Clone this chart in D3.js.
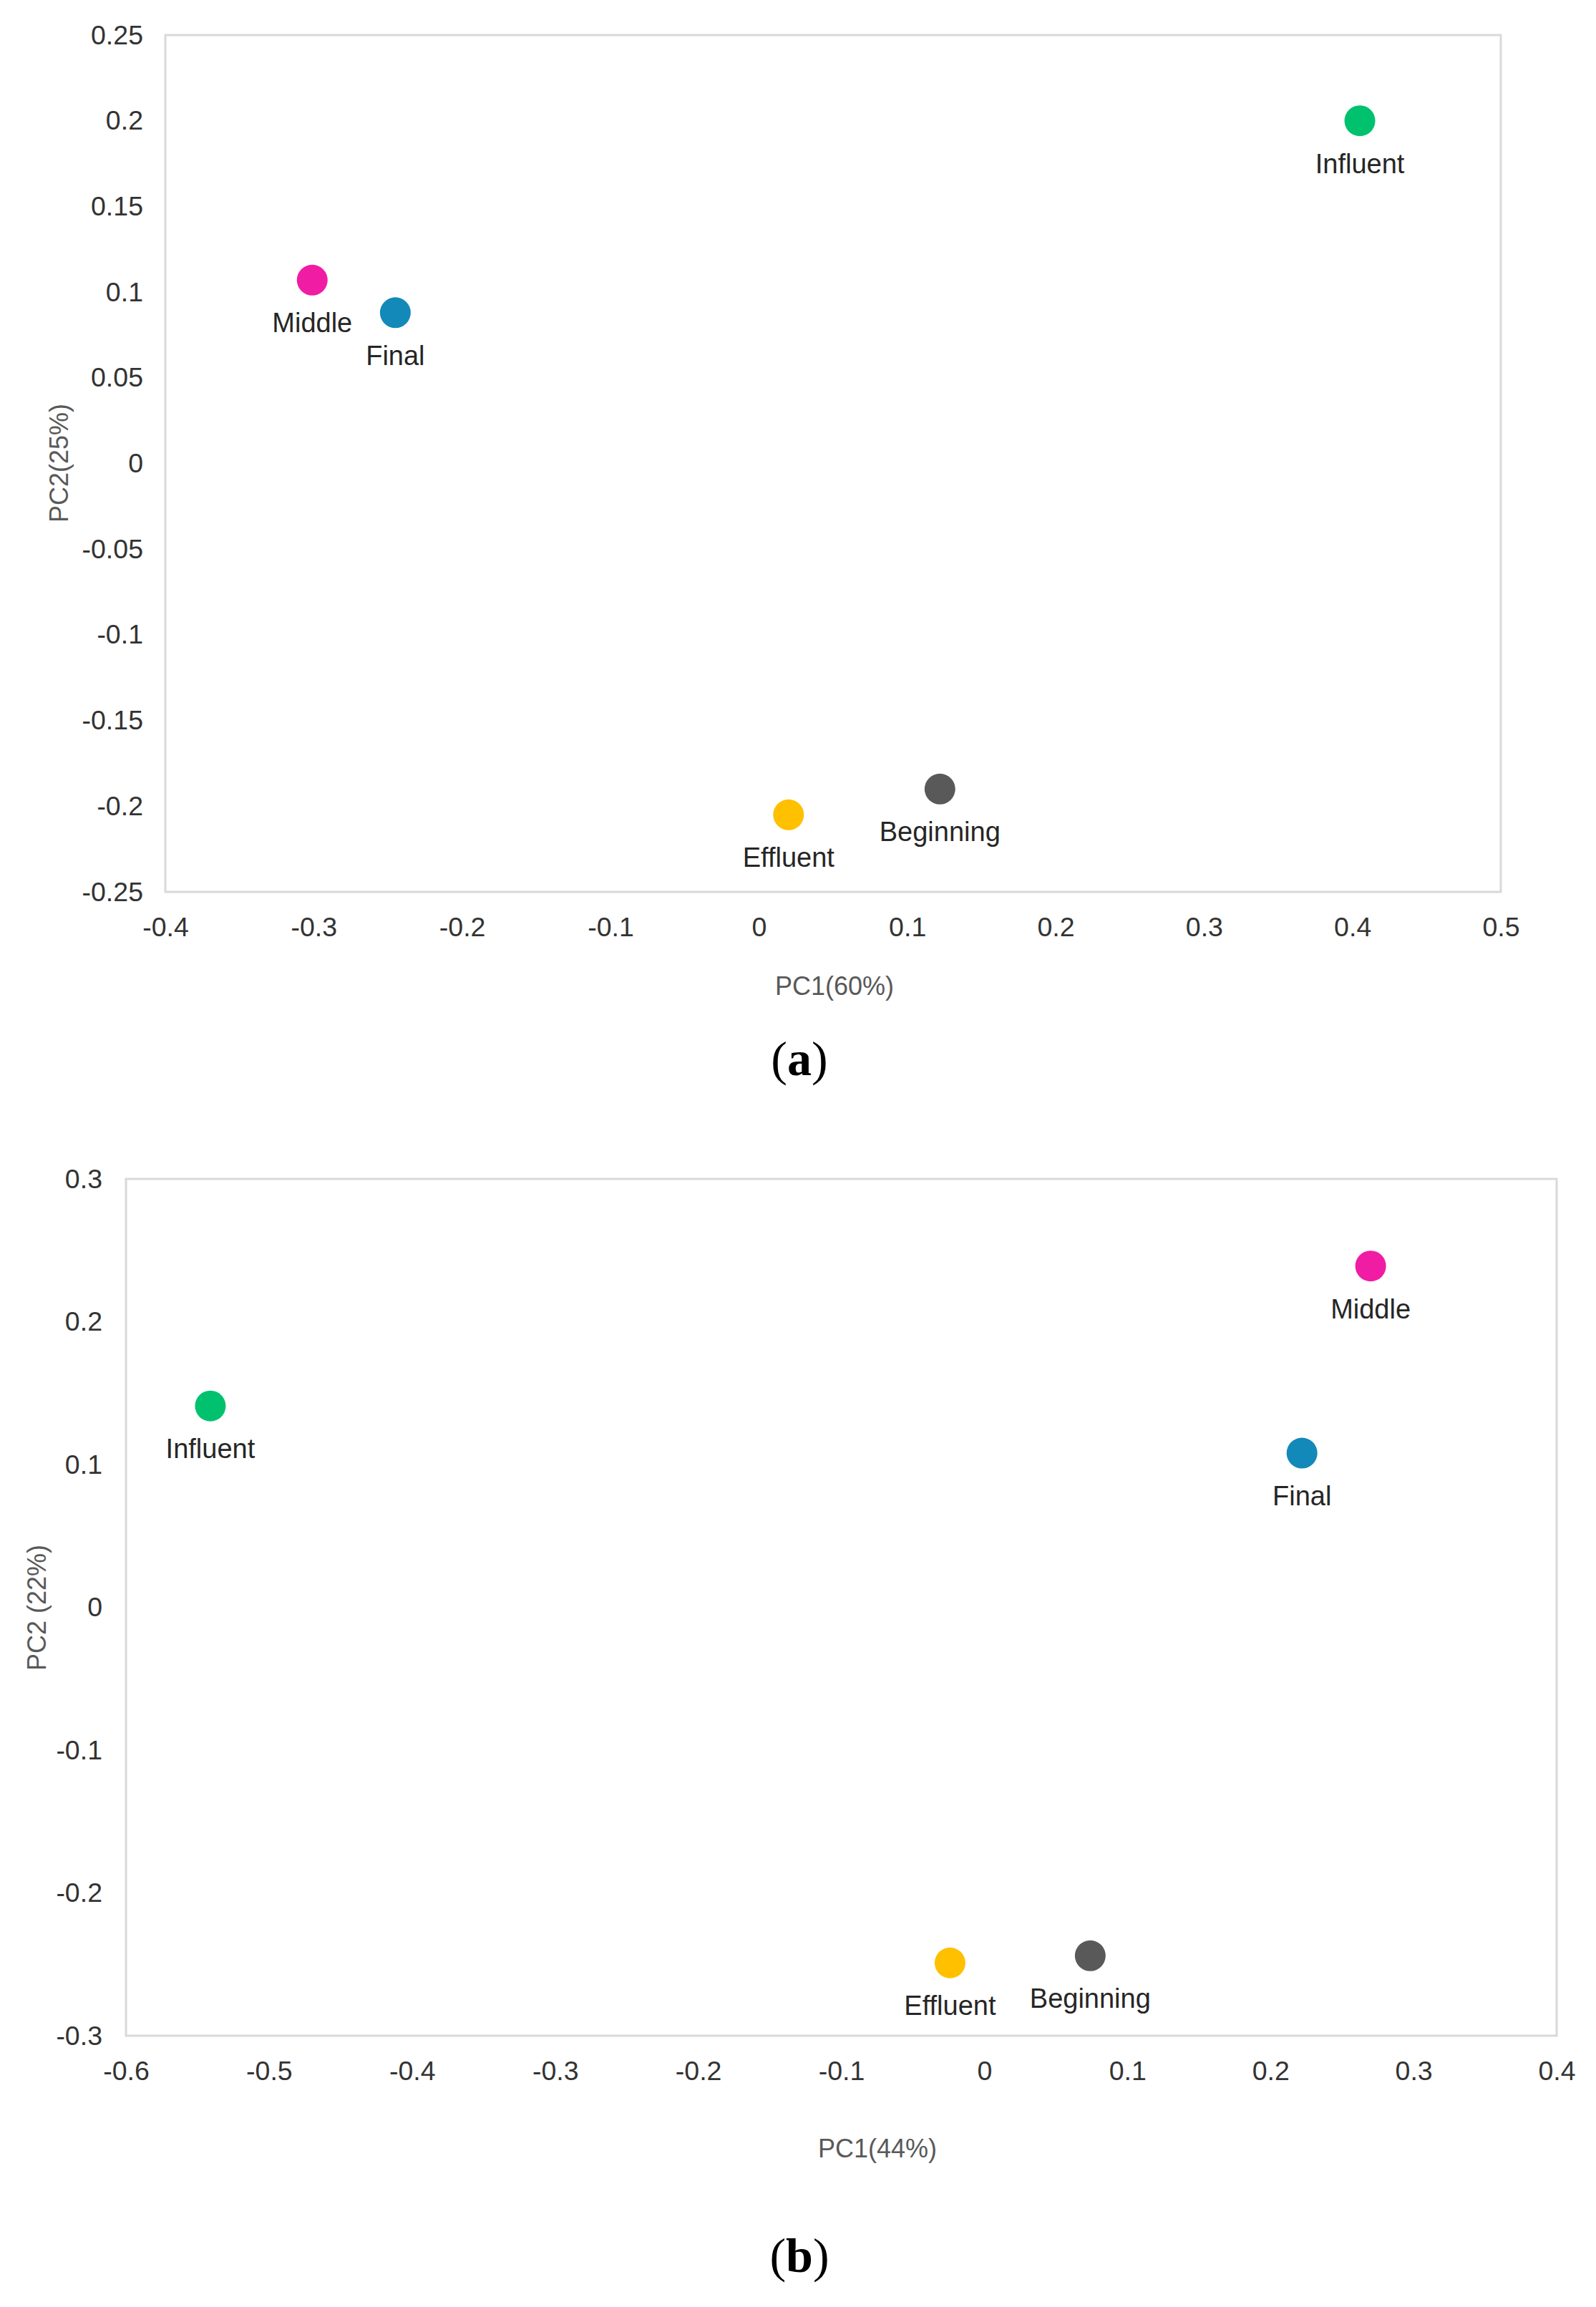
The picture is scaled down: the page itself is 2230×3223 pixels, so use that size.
<!DOCTYPE html>
<html>
<head>
<meta charset="utf-8">
<script src="https://cdn.jsdelivr.net/npm/d3@7"></script>
<style>
  html, body { margin: 0; padding: 0; background: #fff; }
  svg { display: block; }
</style>
</head>
<body>
<svg id="chart" width="2230" height="3223"></svg>
<script>
// ---------- data ----------
const categories = ["Influent", "Beginning", "Middle", "Final", "Effluent"];
const colors = ["#00C16E", "#595959", "#F01CA3", "#1389B9", "#FFC000"];

// panel (a)
const pc1A = [0.405, 0.122, -0.301, -0.245, 0.020];
const pc2A = [0.200, -0.190, 0.107, 0.088, -0.205];
const xTicksA = [-0.4, -0.3, -0.2, -0.1, 0, 0.1, 0.2, 0.3, 0.4, 0.5];
const xTickLabelsA = ["-0.4", "-0.3", "-0.2", "-0.1", "0", "0.1", "0.2", "0.3", "0.4", "0.5"];
const yTicksA = [0.25, 0.2, 0.15, 0.1, 0.05, 0, -0.05, -0.1, -0.15, -0.2, -0.25];
const yTickLabelsA = ["0.25", "0.2", "0.15", "0.1", "0.05", "0", "-0.05", "-0.1", "-0.15", "-0.2", "-0.25"];
const xTitleA = "PC1(60%)";
const yTitleA = "PC2(25%)";

// panel (b)
const pc1B = [-0.541, 0.074, 0.270, 0.222, -0.024];
const pc2B = [0.141, -0.244, 0.239, 0.108, -0.249];
const xTicksB = [-0.6, -0.5, -0.4, -0.3, -0.2, -0.1, 0, 0.1, 0.2, 0.3, 0.4];
const xTickLabelsB = ["-0.6", "-0.5", "-0.4", "-0.3", "-0.2", "-0.1", "0", "0.1", "0.2", "0.3", "0.4"];
const yTicksB = [0.3, 0.2, 0.1, 0, -0.1, -0.2, -0.3];
const yTickLabelsB = ["0.3", "0.2", "0.1", "0", "-0.1", "-0.2", "-0.3"];
const xTitleB = "PC1(44%)";
const yTitleB = "PC2 (22%)";

// ---------- drawing ----------
const svg = d3.select("#chart");
const SANS = '"Liberation Sans", Arial, sans-serif';
const SERIF = '"Liberation Serif", "Times New Roman", serif';

function panel(cfg) {
  const x = d3.scaleLinear().domain(cfg.xDomain).range([cfg.left, cfg.right]);
  const y = d3.scaleLinear().domain(cfg.yDomain).range([cfg.bottom, cfg.top]);
  const g = svg.append("g");

  // frame
  g.append("rect")
    .attr("x", cfg.left).attr("y", cfg.top)
    .attr("width", cfg.right - cfg.left).attr("height", cfg.bottom - cfg.top)
    .attr("fill", "none").attr("stroke", "#D9D9D9").attr("stroke-width", 3);

  // x axis
  const xAxis = d3.axisBottom(x)
    .tickValues(cfg.xTicks)
    .tickFormat((d, i) => cfg.xTickLabels[i])
    .tickSize(0).tickPadding(35);
  const gx = g.append("g").attr("transform", `translate(0,${cfg.bottom})`).call(xAxis);
  gx.select(".domain").remove();
  gx.selectAll("text")
    .style("font-family", SANS)
    .style("font-size", "37.5px").attr("fill", "#333333");

  // y axis
  const yAxis = d3.axisLeft(y)
    .tickValues(cfg.yTicks)
    .tickFormat((d, i) => cfg.yTickLabels[i])
    .tickSize(0).tickPadding(cfg.yPad);
  const gy = g.append("g").attr("transform", `translate(${cfg.left},0)`).call(yAxis);
  gy.select(".domain").remove();
  gy.selectAll("text")
    .style("font-family", SANS)
    .style("font-size", "37.5px").attr("fill", "#333333");

  // axis titles
  g.append("text")
    .attr("x", cfg.xTitlePos[0]).attr("y", cfg.xTitlePos[1])
    .attr("text-anchor", "middle").attr("dominant-baseline", "central")
    .style("font-family", SANS).style("font-size", "36px").attr("fill", "#595959")
    .text(cfg.xTitle);
  g.append("text")
    .attr("transform", `translate(${cfg.yTitlePos[0]},${cfg.yTitlePos[1]}) rotate(-90)`)
    .attr("text-anchor", "middle").attr("dominant-baseline", "central")
    .style("font-family", SANS).style("font-size", "36px").attr("fill", "#595959")
    .text(cfg.yTitle);

  // points
  const pts = categories.map((c, i) => ({ name: c, px: cfg.pc1[i], py: cfg.pc2[i], color: colors[i] }));
  g.selectAll("circle.pt").data(pts).enter().append("circle")
    .attr("class", "pt")
    .attr("cx", d => x(d.px)).attr("cy", d => y(d.py))
    .attr("r", 21.5).attr("fill", d => d.color);

  g.selectAll("text.lbl").data(pts).enter().append("text")
    .attr("class", "lbl")
    .attr("x", d => x(d.px)).attr("y", d => y(d.py) + 60)
    .attr("text-anchor", "middle").attr("dominant-baseline", "central")
    .style("font-family", SANS).style("font-size", "38px").attr("fill", "#262626")
    .text(d => d.name);

  // panel letter
  const lt = g.append("text")
    .attr("x", cfg.letterPos[0]).attr("y", cfg.letterPos[1])
    .attr("text-anchor", "middle").attr("dominant-baseline", "central")
    .style("font-family", SERIF).style("font-size", "68px").attr("fill", "#000");
  lt.append("tspan").text("(");
  lt.append("tspan").style("font-weight", "bold").text(cfg.letter);
  lt.append("tspan").text(")");
}

panel({
  xDomain: [-0.4, 0.5], yDomain: [-0.25, 0.25],
  left: 231, right: 2097, top: 49, bottom: 1246,
  xTicks: xTicksA, xTickLabels: xTickLabelsA,
  yTicks: yTicksA, yTickLabels: yTickLabelsA, yPad: 31,
  xTitle: xTitleA, yTitle: yTitleA,
  xTitlePos: [1166, 1377], yTitlePos: [82, 647],
  pc1: pc1A, pc2: pc2A,
  letter: "a", letterPos: [1117, 1479]
});

panel({
  xDomain: [-0.6, 0.4], yDomain: [-0.3, 0.3],
  left: 176, right: 2175, top: 1647, bottom: 2844,
  xTicks: xTicksB, xTickLabels: xTickLabelsB,
  yTicks: yTicksB, yTickLabels: yTickLabelsB, yPad: 33,
  xTitle: xTitleB, yTitle: yTitleB,
  xTitlePos: [1226, 3001], yTitlePos: [51, 2246],
  pc1: pc1B, pc2: pc2B,
  letter: "b", letterPos: [1117, 3151]
});
</script>
</body>
</html>
